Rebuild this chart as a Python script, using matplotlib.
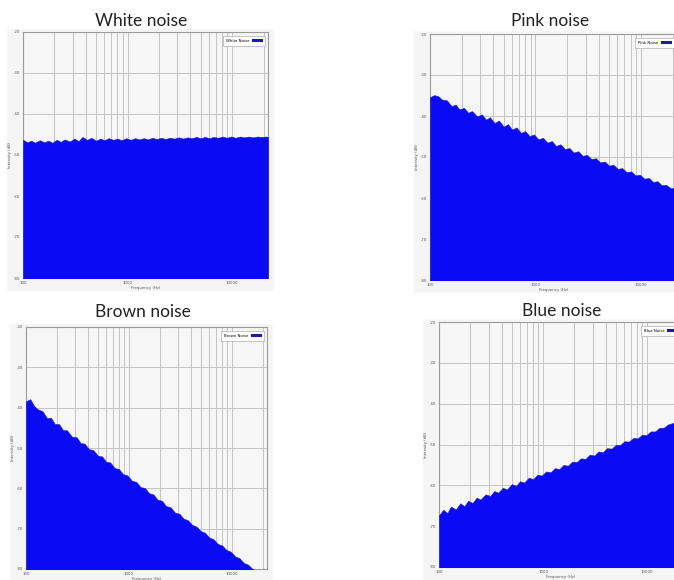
"""Four noise spectra (white / pink / brown / blue) as filled log-frequency plots."""

import matplotlib

matplotlib.use("Agg")
import matplotlib.pyplot as plt
from matplotlib.lines import Line2D
from matplotlib.patches import Rectangle
from matplotlib.ticker import FixedLocator, NullFormatter

# -- data --------------------------------------------------------------------

FREQ_HZ = [100, 110, 120, 130, 145, 160, 175, 190, 210, 230, 250, 280, 310, 340,
           370, 410, 450, 500, 550, 600, 660, 730, 800, 880, 970, 1070, 1180, 1300,
           1430, 1570, 1730, 1900, 2100, 2300, 2550, 2800, 3100, 3400, 3750, 4100,
           4550, 5000, 5500, 6050, 6650, 7350, 8100, 8900, 9800, 10800, 11900,
           13100, 14400, 15800, 17400, 19200, 21100, 22050]

WHITE_DB = [-46.3, -46.9, -46.5, -47.0, -46.4, -46.9, -46.5, -47.0, -46.3, -46.8,
            -46.2, -46.7, -46.0, -46.6, -45.6, -46.3, -45.8, -46.5, -46.0, -46.4,
            -45.9, -46.3, -46.0, -46.4, -45.9, -46.3, -45.9, -46.2, -45.9, -46.2,
            -45.8, -46.1, -45.8, -46.1, -45.8, -46.0, -45.7, -46.0, -45.7, -45.9,
            -45.6, -45.9, -45.6, -45.9, -45.6, -45.8, -45.5, -45.8, -45.5, -45.8,
            -45.5, -45.7, -45.5, -45.7, -45.5, -45.6, -45.5, -45.6]

PINK_DB = [-35.4, -34.9, -35.2, -36.0, -36.2, -37.6, -37.2, -38.4, -38.0, -39.2,
           -38.8, -40.1, -39.6, -40.9, -40.3, -41.7, -41.1, -42.6, -42.0, -43.3,
           -42.8, -44.1, -43.7, -44.9, -44.5, -45.7, -45.3, -46.5, -46.1, -47.3,
           -46.9, -48.1, -47.8, -48.9, -48.6, -49.7, -49.5, -50.5, -50.3, -51.3,
           -51.1, -52.1, -51.9, -52.9, -52.7, -53.7, -53.5, -54.5, -54.3, -55.3,
           -55.1, -56.1, -55.9, -56.9, -56.8, -57.6, -57.6, -58.0]

BROWN_DB = [-38.4, -37.9, -39.6, -40.4, -40.9, -42.6, -42.5, -44.0, -44.1, -45.6,
            -45.6, -47.2, -47.3, -48.8, -48.9, -50.3, -50.5, -51.9, -52.1, -53.4,
            -53.6, -55.0, -55.2, -56.5, -56.8, -58.1, -58.4, -59.7, -59.9, -61.2,
            -61.5, -62.8, -63.1, -64.4, -64.7, -66.0, -66.3, -67.5, -67.9, -69.0,
            -69.5, -70.6, -71.0, -72.2, -72.6, -73.8, -74.2, -75.3, -75.7, -76.9,
            -77.3, -78.5, -78.9, -79.9, -80.4, -81.2, -82.0, -82.0]

BLUE_DB = [-67.3, -66.0, -66.8, -65.2, -65.9, -64.4, -65.1, -63.8, -64.3, -63.0,
           -63.5, -62.2, -62.6, -61.4, -61.8, -60.6, -61.0, -59.7, -60.1, -59.0,
           -59.3, -58.1, -58.5, -57.4, -57.6, -56.6, -56.8, -55.8, -56.0, -55.0,
           -55.2, -54.2, -54.3, -53.4, -53.5, -52.5, -52.7, -51.7, -51.9, -50.9,
           -51.0, -50.1, -50.1, -49.2, -49.3, -48.4, -48.5, -47.6, -47.7, -46.8,
           -46.8, -45.9, -45.9, -45.1, -44.8, -44.2, -43.9, -43.6]

TITLES = ["White noise", "Pink noise", "Brown noise", "Blue noise"]
LEGEND_LABELS = ["White Noise", "Pink Noise", "Brown Noise", "Blue Noise"]
Y_TICKS = [-20, -30, -40, -50, -60, -70, -80]
X_TICKS = [100, 1000, 10000]
X_TICK_LABELS = ["100", "1000", "10000"]
X_MINOR = [200, 300, 400, 500, 600, 700, 800, 900,
           2000, 3000, 4000, 5000, 6000, 7000, 8000, 9000, 20000]

# -- layout (pixel boxes measured on the 674x580 reference) -------------------

W, H = 674, 580
# (left, top, right, bottom) of each plot area, title centre (x, y)
PANELS = [
    ((23, 32, 268, 278), (141, 21)),
    ((430, 34, 677, 280), (550, 21)),
    ((26, 327, 267, 569), (143, 312)),
    ((439, 322, 683, 567), (562, 311)),
]

FILL = "#0a0af5"
EDGE = "#1c1cc0"
GRID = "#c4c4c4"
TICK_TXT = "#555555"

fig = plt.figure(figsize=(W / 100, H / 100), dpi=100)
fig.patch.set_facecolor("white")


def frac_box(l, t, r, b):
    return [l / W, 1 - b / H, (r - l) / W, (b - t) / H]


for (box, tpos), title, label, values in zip(
        PANELS, TITLES, LEGEND_LABELS, [WHITE_DB, PINK_DB, BROWN_DB, BLUE_DB]):
    l, t, r, b = box
    # faint grey backdrop behind the whole plot block (the checkered screenshot bg)
    fig.patches.append(Rectangle(((l - 16) / W, 1 - (b + 13) / H),
                                 (r - l + 22) / W, (b - t + 16) / H,
                                 transform=fig.transFigure, facecolor="#f5f5f5",
                                 edgecolor="none", zorder=-1))
    ax = fig.add_axes(frac_box(l, t, r, b))
    ax.set_facecolor("#f6f6f6")
    ax.set_xscale("log")
    ax.set_xlim(100, 22050)
    ax.set_ylim(-80, -20)

    ax.fill_between(FREQ_HZ, values, -100, color=FILL, edgecolor=EDGE,
                    linewidth=0.4, zorder=3)

    ax.xaxis.set_major_locator(FixedLocator(X_TICKS))
    ax.set_xticklabels(X_TICK_LABELS)
    ax.xaxis.set_minor_locator(FixedLocator(X_MINOR))
    ax.xaxis.set_minor_formatter(NullFormatter())
    ax.set_yticks(Y_TICKS)
    ax.set_yticklabels([str(v) for v in Y_TICKS])
    ax.grid(True, which="both", color=GRID, linewidth=0.7, zorder=1)
    ax.set_axisbelow(True)
    ax.tick_params(which="both", length=0, labelsize=2.8, colors=TICK_TXT, pad=2)
    for sp in ax.spines.values():
        sp.set_color("#9a9a9a")
        sp.set_linewidth(0.8)

    ax.set_xlabel("Frequency (Hz)", fontsize=2.8, color=TICK_TXT, labelpad=1)
    ax.set_ylabel("Intensity (dB)", fontsize=2.8, color=TICK_TXT, labelpad=1)

    # legend: label text first, then the thick blue swatch
    handle = Line2D([], [], color="#1a1aa8", linewidth=2.2)
    leg = ax.legend([handle], [label], loc="upper right", fontsize=2.8,
                    handlelength=2.2, fancybox=False, framealpha=1,
                    borderpad=0.8, borderaxespad=0.9, markerfirst=False)
    leg.get_frame().set_edgecolor("#b0b0b0")
    leg.get_frame().set_linewidth(0.5)
    leg.set_zorder(5)

    fig.text(tpos[0] / W, 1 - tpos[1] / H, title, ha="center", va="center",
             fontsize=12.5, family=["Lato", "DejaVu Sans"], color="#222222")

fig.savefig("out.png", dpi=100)
